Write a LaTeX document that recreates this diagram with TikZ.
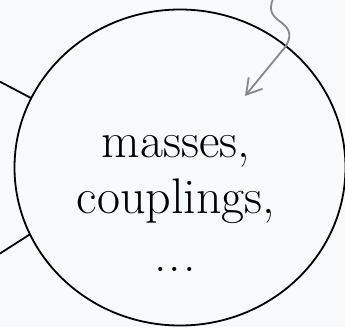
\documentclass[tikz,border=0pt]{standalone}
\usetikzlibrary{shapes.geometric,arrows.meta}
\definecolor{bgc}{RGB}{247,250,251}
\definecolor{arrowgray}{RGB}{135,135,135}
\begin{document}
\begin{tikzpicture}[x=1pt,y=-1pt,
  bigtext/.style={font=\fontsize{50}{57}\selectfont, anchor=base, inner sep=0pt},
  edge/.style={line width=1.8pt, black},
  wavy/.style={line width=1.8pt, arrowgray, line cap=round, -{Straight Barb[length=15pt,width=18pt,line width=1.8pt]}}]
  \fill[bgc] (0,0) rectangle (345,327);
  \useasboundingbox (0,0) rectangle (345,327);
  \node[ellipse, draw, line width=1.8pt, minimum width=331pt, minimum height=316pt, inner sep=0pt, outer sep=0pt] (c) at (180,167.5) {};
  \node[bigtext] (m) at (176,157) {masses,};
  \node[bigtext] (cp) at (176,213) {couplings,};
  \node[bigtext] (d) at (175,271) {.\kern2pt.\kern2pt.};
  \coordinate (l1) at (0,81.7);
  \coordinate (l2) at (0,253.5);
  \coordinate (s) at (273.5,-2);
  \coordinate (t) at (245,96);
  \draw[edge] (l1) -- (c.155.8);
  \draw[edge] (l2) -- (c.204.9);
  \draw[wavy] (s) .. controls (267,12) and (274,17) .. (282,23) .. controls (291,30) and (291,37) .. (286,46) -- (t);
\end{tikzpicture}
\end{document}
